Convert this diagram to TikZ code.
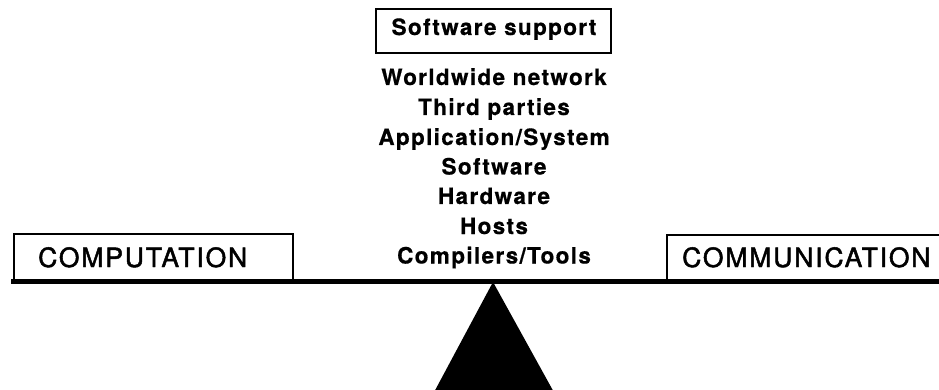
\documentclass[tikz,border=0pt]{standalone}
\usepackage{fontspec}
\newfontfamily\bigsans{TeX Gyre Heros}[LetterSpace=7,FakeBold=1.8]
\newfontfamily\listsans{TeX Gyre Heros}[LetterSpace=6,FakeBold=0.6]
\begin{document}
\begin{tikzpicture}[x=1pt,y=-1pt,
  frame/.style={line width=1.2pt},
  beam/.style={line width=5pt},
  sidelabel/.style={anchor=base west,inner sep=0pt,font=\bigsans\fontsize{26.5}{30}\selectfont},
  listitem/.style={anchor=base,inner sep=0pt,font=\listsans\bfseries\fontsize{22.5}{26}\selectfont}]
\useasboundingbox (0,0) rectangle (939,390);

% heading box
\node[listitem] (head) at (494,35) {Software support};
\draw[frame] (376,9) rectangle (611,53);

% stacked list
\node[listitem] (l1) at (494,85) {Worldwide network};
\node[listitem] (l2) at (494,115) {Third parties};
\node[listitem] (l3) at (494,145) {Application/System};
\node[listitem] (l4) at (494,174.5) {Software};
\node[listitem] (l5) at (494,204) {Hardware};
\node[listitem] (l6) at (494,234) {Hosts};
\node[listitem] (l7) at (494,263.5) {Compilers/Tools};

% pans on the beam
\draw[frame] (14,281) -- (14,234) -- (293,234) -- (293,281);
\node[sidelabel] (left) at (38,267) {COMPUTATION};
\draw[frame] (667,281) -- (667,235) -- (960,235);
\node[sidelabel] (right) at (682,267) {COMMUNICATION};

% beam and fulcrum
\draw[beam] (11,281) coordinate (bl) -- (945,281) coordinate (br);
\fill (493,282) coordinate (apex) -- (432,396) -- (556,396) -- cycle;
\end{tikzpicture}
\end{document}
